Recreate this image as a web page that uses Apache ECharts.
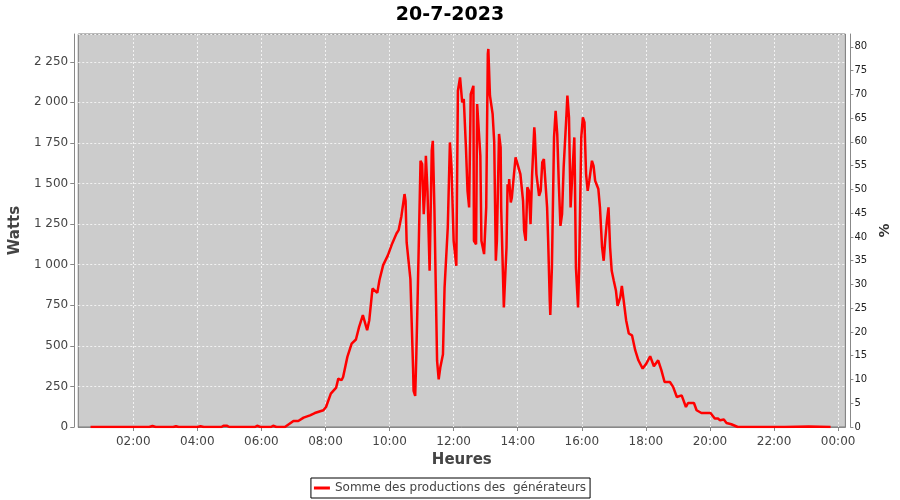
<!DOCTYPE html>
<html>
<head>
<meta charset="utf-8">
<script src="https://cdn.jsdelivr.net/npm/echarts@6/dist/echarts.min.js"></script>
<style>html,body{margin:0;padding:0;background:#fff}#c{width:900px;height:500px}</style>
</head>
<body>
<div id="c"></div>
<script>
// Time of each sample, in minutes after midnight
const minutes = [40,100,150,156,162,195,200,205,240,246,252,285,289,295,300,318,321,326,348,352,358,378,382,388,404,
420,429,439,451,460,476,481,490,500,504,510,513,521,529,537,543,550,558,562,568,577,581,588,597,605,613,617,622,628,630,632,639,644,645,648,650,653,658,661,664,666,668,671,675,679,681,684,687,689,692,695,700,703,709,713,716,720,725,728,732,736,739,743,746,749,752,757,758,762,764,770,772,777,781,784,785,788,793,796,799,801,805,808,809,814,816,819,821,823,824,827,829,833,836,839,845,850,852,855,858,861,864,867,871,872,875,880,883,886,889,895,897,900,901,904,908,911,914,917,920,923,926,931,933,936,939,942,946,947,949,953,955,959,962,965,968,971,974,979,982,985,991,994,998,1001,1004,1007,1010,1013,1016,1020,1024,1027,1029,1032,1035,1038,1043,1048,1054,1060,1066,1074,1081,1088,1095,1103,1109,1115,1125,1131,1138,1147,1155,1159,1170,1175,1184,1201,1209,1215,1219,1226,1231,1240,1252,1300,1340,1385,1388,1426];
// Sum of generator production, W
const watts = [0,0,0,6,0,0,5,0,0,5,0,0,8,8,0,0,8,0,0,8,0,0,8,0,0,
37,37,58,72,86,103,123,206,243,298,288,308,432,514,539,617,689,596,658,853,826,904,997,1059,1131,1192,1213,1295,1435,1393,1137,911,366,222,191,428,859,1640,1620,1311,1435,1671,1455,962,1702,1763,1342,777,407,294,366,448,859,1229,1753,1599,1147,993,2071,2154,2000,2020,1723,1455,1353,2051,2102,1147,1126,1990,1671,1147,1065,1353,2298,2329,2041,1928,1753,1024,1147,1805,1723,1353,736,726,1106,1496,1455,1527,1383,1414,1558,1661,1671,1558,1393,1208,1147,1476,1455,1250,1558,1846,1805,1558,1424,1455,1630,1650,1353,1147,777,690,983,1784,1948,1805,1496,1239,1311,1599,1907,2041,1907,1353,1538,1784,1558,983,736,983,1784,1907,1877,1558,1455,1517,1640,1609,1517,1466,1353,1106,1024,1157,1270,1353,1106,962,900,839,746,736,798,869,863,658,576,565,473,411,360,391,436,374,411,350,277,277,247,185,195,123,148,148,103,86,86,52,52,41,46,25,17,0,0,0,3,0,0];
// Tick labels
const xTickValues = [120,240,360,480,600,720,840,960,1080,1200,1320,1440];
const titleText = '20-7-2023';
const seriesName = 'Somme des productions des  générateurs';

const pad = n => (n < 10 ? '0' : '') + n;
const fmtTime = v => pad(Math.floor(v / 60) % 24) + ':' + pad(Math.round(v % 60));
const fmtW = v => v >= 1000 ? Math.floor(v / 1000) + ' ' + String(v % 1000).padStart(3, '0') : String(v);

const chart = echarts.init(document.getElementById('c'), null, {renderer: 'canvas'});
const font = 'DejaVu Sans';
chart.setOption({
  animation: false,
  backgroundColor: '#ffffff',
  textStyle: {fontFamily: font},
  title: {
    text: titleText, left: 'center', top: 1,
    textStyle: {fontFamily: font, fontWeight: 'bold', fontSize: 19, color: '#000'}
  },
  legend: {
    bottom: 2, left: 'center',
    data: [{name: seriesName, icon: 'rect'}],
    borderColor: '#000', borderWidth: 1, padding: [4, 4, 4, 3],
    itemWidth: 16, itemHeight: 3, itemGap: 5,
    textStyle: {fontFamily: font, fontSize: 12, color: '#444'}
  },
  grid: {
    left: 77, right: 52, top: 34, bottom: 73,
    show: true, backgroundColor: '#cccccc', borderColor: '#777', borderWidth: 1
  },
  xAxis: {
    type: 'value', min: 17, max: 1453.6, offset: 4,
    name: 'Heures', nameLocation: 'middle', nameGap: 21,
    nameTextStyle: {fontFamily: font, fontWeight: 'bold', fontSize: 15, color: '#444'},
    axisLine: {show: true, lineStyle: {color: '#888'}},
    axisTick: {show: true, length: 4, customValues: xTickValues, lineStyle: {color: '#888'}},
    axisLabel: {customValues: xTickValues, formatter: fmtTime, fontFamily: font, fontSize: 12, color: '#444', margin: 5},
    splitLine: {show: true, lineStyle: {color: '#f2f2f2', type: [2, 2], width: 1}}
  },
  yAxis: [{
    type: 'value', min: 0, max: 2421, interval: 250, offset: 4,
    name: 'Watts', nameLocation: 'middle', nameGap: 46, nameRotate: 90,
    nameTextStyle: {fontFamily: font, fontWeight: 'bold', fontSize: 15, color: '#444'},
    axisLine: {show: true, lineStyle: {color: '#888'}},
    axisTick: {show: true, length: 4, lineStyle: {color: '#888'}},
    axisLabel: {formatter: fmtW, showMaxLabel: false, fontFamily: font, fontSize: 12, color: '#444', margin: 6},
    splitLine: {show: true, lineStyle: {color: '#f2f2f2', type: [2, 2], width: 1}}
  }, {
    type: 'value', min: 0, max: 82.7, interval: 5, offset: 5, position: 'right',
    name: '%', nameLocation: 'middle', nameGap: 24, nameRotate: 90,
    nameTextStyle: {fontFamily: font, fontWeight: 'bold', fontSize: 14, color: '#333'},
    axisLine: {show: true, lineStyle: {color: '#888'}},
    axisTick: {show: true, length: 3, lineStyle: {color: '#888'}},
    axisLabel: {showMaxLabel: false, fontFamily: font, fontSize: 10, color: '#222', margin: 4},
    splitLine: {show: false}
  }],
  series: [{
    name: seriesName, type: 'line', yAxisIndex: 0,
    data: minutes.map((m, i) => [m, watts[i]]),
    symbol: 'none', sampling: null,
    lineStyle: {color: '#ff0000', width: 2.5},
    itemStyle: {color: '#ff0000'}
  }]
});
</script>
</body>
</html>
